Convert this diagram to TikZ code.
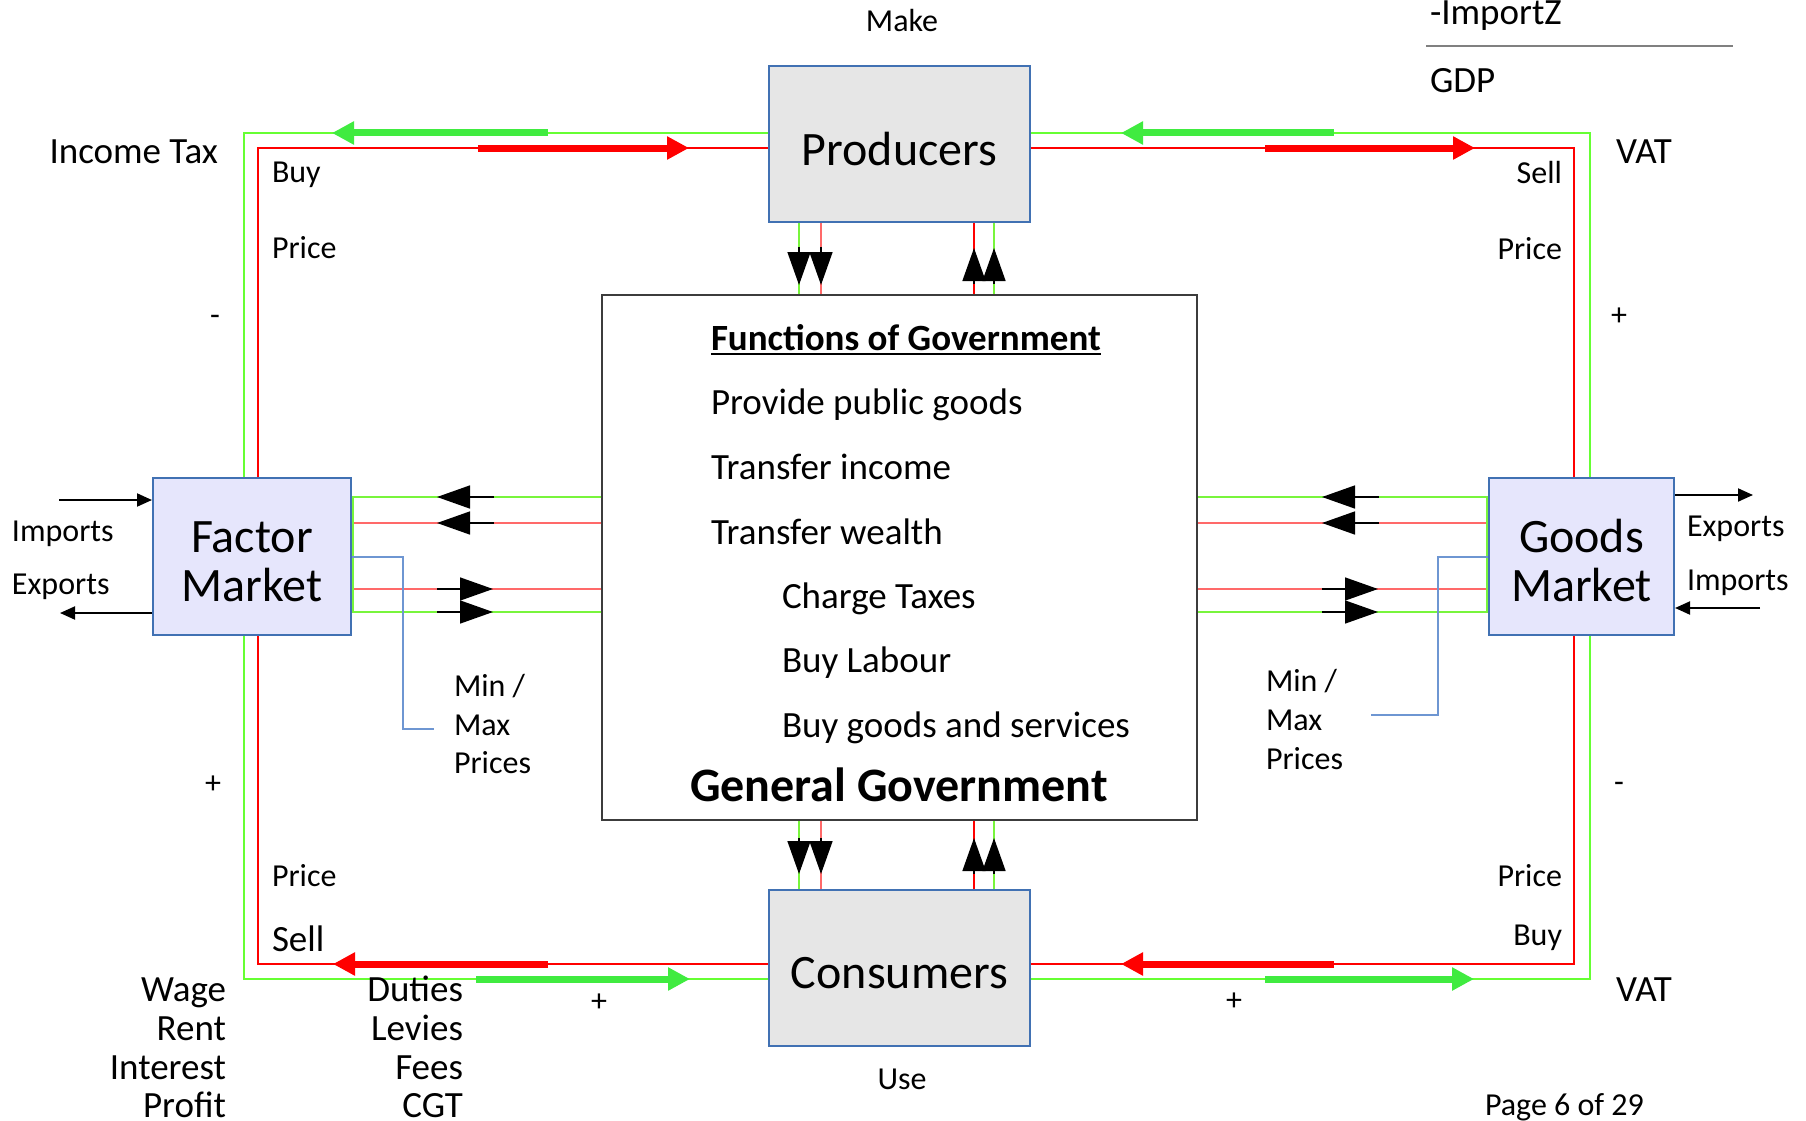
\documentclass[tikz,border=0pt]{standalone}
\usepackage{fontspec}
\setmainfont{Carlito}
\usetikzlibrary{arrows.meta}

\definecolor{loopgreen}{RGB}{102,255,51}
\definecolor{flowgreen}{RGB}{64,235,64}
\definecolor{loopred}{RGB}{255,0,0}
\definecolor{linkred}{RGB}{255,105,105}
\definecolor{linkgreen}{RGB}{120,245,60}
\definecolor{boxblue}{RGB}{65,113,179}
\definecolor{agentfill}{RGB}{230,230,230}
\definecolor{marketfill}{RGB}{230,230,252}
\definecolor{pricelink}{RGB}{110,150,210}
\definecolor{govline}{RGB}{60,60,60}

% lower a box label without changing the space it takes
\newcommand{\lowerlabel}[2]{\raisebox{-#1}[\height][\depth]{#2}}

\begin{document}
\begin{tikzpicture}[x=1pt,y=-1pt,
  big/.style={font=\fontsize{48}{49}\selectfont},
  mid/.style={font=\fontsize{37}{39}\selectfont},
  small/.style={font=\fontsize{32}{39}\selectfont},
  lbl/.style={inner sep=0pt,outer sep=0pt},
  agent/.style={draw=boxblue,line width=2pt,fill=agentfill,minimum width=261pt,minimum height=156pt,big,inner sep=0pt},
  market/.style={draw=boxblue,line width=2pt,fill=marketfill,minimum height=157pt,big,inner sep=0pt},
  govbox/.style={draw=govline,line width=1.5pt,fill=white,minimum width=595pt,minimum height=525pt,inner sep=0pt},
  flowarrow/.style={-{Triangle[length=22pt,width=22pt]},line width=7pt},
  tickarrow/.style={black,line width=1.5pt,-{Triangle[length=33pt,width=23pt]}},
  tradearrow/.style={black,line width=2pt,-{Triangle[length=15pt,width=13pt]}},
  greenlink/.style={linkgreen,line width=1.5pt},
  redlink/.style={linkred,line width=1.5pt},
]
\useasboundingbox (0,0) rectangle (1806,1121);

% ---- circular flow loops ----
\coordinate (gtl) at (244,133);
\coordinate (gbr) at (1590,979);
\coordinate (rtl) at (258,148);
\coordinate (rbr) at (1574,964);
\draw[loopgreen,line width=2pt] (gtl) rectangle (gbr);
\draw[loopred,line width=2pt] (rtl) rectangle (rbr);

% ---- sectors ----
\node[agent] (prod) at (899.5,144) {\lowerlabel{5pt}{Producers}};
\node[agent] (cons) at (899.5,967.5) {\lowerlabel{6pt}{Consumers}};
\node[market,minimum width=198pt] (fm) at (252,556.5)
  {\lowerlabel{11pt}{\begin{tabular}{@{}c@{}}Factor\\Market\end{tabular}}};
\node[market,minimum width=185pt] (gm) at (1581.5,556.5)
  {\lowerlabel{11pt}{\begin{tabular}{@{}c@{}}Goods\\Market\end{tabular}}};
\node[govbox] (gov) at (899.5,557.5) {};

% ---- links between the sectors and government ----
\coordinate (h1) at (0,497);
\coordinate (h2) at (0,523);
\coordinate (h3) at (0,589);
\coordinate (h4) at (0,612);
\coordinate (v1) at (799,0);
\coordinate (v2) at (821,0);
\coordinate (v3) at (974,0);
\coordinate (v4) at (994,0);

\draw[greenlink] (gov.west |- h1) -- (fm.east |- h1);
\draw[redlink]   (gov.west |- h2) -- (fm.east |- h2);
\draw[redlink]   (gov.west |- h3) -- (fm.east |- h3);
\draw[greenlink] (gov.west |- h4) -- (fm.east |- h4);
\draw[greenlink] ([xshift=1pt]fm.east |- h1) -- ([xshift=1pt]fm.east |- h4);

\draw[greenlink] (gov.east |- h1) -- (gm.west |- h1);
\draw[redlink]   (gov.east |- h2) -- (gm.west |- h2);
\draw[redlink]   (gov.east |- h3) -- (gm.west |- h3);
\draw[greenlink] (gov.east |- h4) -- (gm.west |- h4);
\draw[greenlink] ([xshift=-1pt]gm.west |- h1) -- ([xshift=-1pt]gm.west |- h4);

\draw[greenlink] (prod.south -| v1) -- (gov.north -| v1);
\draw[redlink]   (prod.south -| v2) -- (gov.north -| v2);
\draw[loopred,line width=1.5pt] (prod.south -| v3) -- (gov.north -| v3);
\draw[greenlink] (prod.south -| v4) -- (gov.north -| v4);

\draw[greenlink] (gov.south -| v1) -- (cons.north -| v1);
\draw[redlink]   (gov.south -| v2) -- (cons.north -| v2);
\draw[loopred,line width=1.5pt] (gov.south -| v3) -- (cons.north -| v3);
\draw[greenlink] (gov.south -| v4) -- (cons.north -| v4);

% direction markers on the links
\draw[tickarrow] (799,247) -- (799,285);
\draw[tickarrow] (821,247) -- (821,285);
\draw[tickarrow] (974,284) -- (974,248);
\draw[tickarrow] (994,284) -- (994,248);

\draw[tickarrow] (799,838) -- (799,874);
\draw[tickarrow] (821,838) -- (821,874);
\draw[tickarrow] (974,874) -- (974,838);
\draw[tickarrow] (994,874) -- (994,838);

\draw[tickarrow] (494,497) -- (437,497);
\draw[tickarrow] (494,523) -- (437,523);
\draw[tickarrow] (437,589) -- (493,589);
\draw[tickarrow] (437,612) -- (493,612);

\draw[tickarrow] (1379,497) -- (1322,497);
\draw[tickarrow] (1379,523) -- (1322,523);
\draw[tickarrow] (1322,589) -- (1378,589);
\draw[tickarrow] (1322,612) -- (1378,612);

% ---- money and goods flow arrows on the loops ----
\draw[flowarrow,flowgreen] (548,133) -- (332,133);
\draw[flowarrow,loopred]   (478,148) -- (689,148);
\draw[flowarrow,flowgreen] (1334,133) -- (1121,133);
\draw[flowarrow,loopred]   (1265,148) -- (1475,148);
\draw[flowarrow,loopred]   (548,964) -- (333,964);
\draw[flowarrow,flowgreen] (476,979) -- (690,979);
\draw[flowarrow,loopred]   (1334,964) -- (1121,964);
\draw[flowarrow,flowgreen] (1265,979) -- (1474,979);

% ---- imports and exports ----
\draw[tradearrow] (59,500) -- (fm.west |- 0,500);
\draw[tradearrow] (fm.west |- 0,613) -- (60,613);
\draw[tradearrow] (gm.east |- 0,495) -- (1753,495);
\draw[tradearrow] (1760,608) -- (gm.east |- 0,608);

% ---- price controls ----
\draw[pricelink,line width=1.2pt] (fm.east |- 0,557) -- (403,557) -- (403,729) -- (434,729);
\draw[pricelink,line width=1.2pt] (gm.west |- 0,557) -- (1438,557) -- (1438,715) -- (1371,715);

% ---- government functions ----
\node[lbl,anchor=base west,font=\fontsize{37}{39}\selectfont\bfseries] (fog) at (711,350) {Functions of Government};
\draw[black,line width=2pt] ([yshift=-4pt]fog.base west) -- ([yshift=-4pt]fog.base east);
\node[lbl,mid,anchor=base west] (f1) at (711,414) {Provide public goods};
\node[lbl,mid,anchor=base west] (f2) at (711,479) {Transfer income};
\node[lbl,mid,anchor=base west] (f3) at (711,544) {Transfer wealth};
\node[lbl,mid,anchor=base west] (f4) at (782,608) {Charge Taxes};
\node[lbl,mid,anchor=base west] (f5) at (782,672) {Buy Labour};
\node[lbl,mid,anchor=base west] (f6) at (782,737) {Buy goods and services};
\node[lbl,anchor=base west,font=\fontsize{48}{49}\selectfont\bfseries] (gg) at (690,801) {General Government};

% ---- labels ----
\node[lbl,small,anchor=base] (make) at (902,32) {Make};
\node[lbl,small,anchor=base] (use) at (902,1089) {Use};
\node[lbl,mid,anchor=base west] (impz) at (1430,25) {-ImportZ};
\draw[gray,line width=2pt] (1426,46) -- (1733,46);
\node[lbl,mid,anchor=base west] (gdp) at (1430,93) {GDP};

\node[lbl,mid,anchor=base east] (itax) at (218,163) {Income Tax};
\node[lbl,mid,anchor=base west] (vat1) at (1616,163) {VAT};
\node[lbl,mid,anchor=base west] (vat2) at (1616,1001) {VAT};

\node[lbl,small,anchor=base west] (buy1) at (272,182) {Buy};
\node[lbl,small,anchor=base west] (pr1) at (272,258) {Price};
\node[lbl,small,anchor=base east] (sell1) at (1562,183) {Sell};
\node[lbl,small,anchor=base east] (pr2) at (1562,259) {Price};
\node[lbl,small,anchor=base west] (pr3) at (272,886) {Price};
\node[lbl,mid,anchor=base west] (sell2) at (272,951) {Sell};
\node[lbl,small,anchor=base east] (pr4) at (1562,886) {Price};
\node[lbl,small,anchor=base east] (buy2) at (1562,945) {Buy};

\node[lbl,small,anchor=base east] (s1) at (220,325) {-};
\node[lbl,small,anchor=base] (s2) at (1619,325) {+};
\node[lbl,small,anchor=base] (s3) at (213,793) {+};
\node[lbl,small,anchor=base] (s4) at (1619,792) {-};
\node[lbl,small,anchor=base] (s5) at (599,1011) {+};
\node[lbl,small,anchor=base] (s6) at (1234,1010) {+};

\node[lbl,small,anchor=base west] (imp1) at (12,541) {Imports};
\node[lbl,small,anchor=base west] (exp1) at (12,594) {Exports};
\node[lbl,small,anchor=base west] (exp2) at (1687,536) {Exports};
\node[lbl,small,anchor=base west] (imp2) at (1687,590) {Imports};

\node[lbl,small,anchor=base west] (mm1) at (454,696) {Min /};
\node[lbl,small,anchor=base west] (mm2) at (454,735) {Max};
\node[lbl,small,anchor=base west] (mm3) at (454,773) {Prices};
\node[lbl,small,anchor=base west] (mm4) at (1266,691) {Min /};
\node[lbl,small,anchor=base west] (mm5) at (1266,730) {Max};
\node[lbl,small,anchor=base west] (mm6) at (1266,769) {Prices};

\node[lbl,mid,anchor=base east] (w1) at (226,1001) {Wage};
\node[lbl,mid,anchor=base east] (w2) at (226,1040) {Rent};
\node[lbl,mid,anchor=base east] (w3) at (226,1079) {Interest};
\node[lbl,mid,anchor=base east] (w4) at (226,1117) {Profit};
\node[lbl,mid,anchor=base east] (d1) at (463,1001) {Duties};
\node[lbl,mid,anchor=base east] (d2) at (463,1040) {Levies};
\node[lbl,mid,anchor=base east] (d3) at (463,1079) {Fees};
\node[lbl,mid,anchor=base east] (d4) at (463,1117) {CGT};

\node[lbl,small,anchor=base west] (page) at (1485,1115) {Page 6 of 29};
\end{tikzpicture}
\end{document}
